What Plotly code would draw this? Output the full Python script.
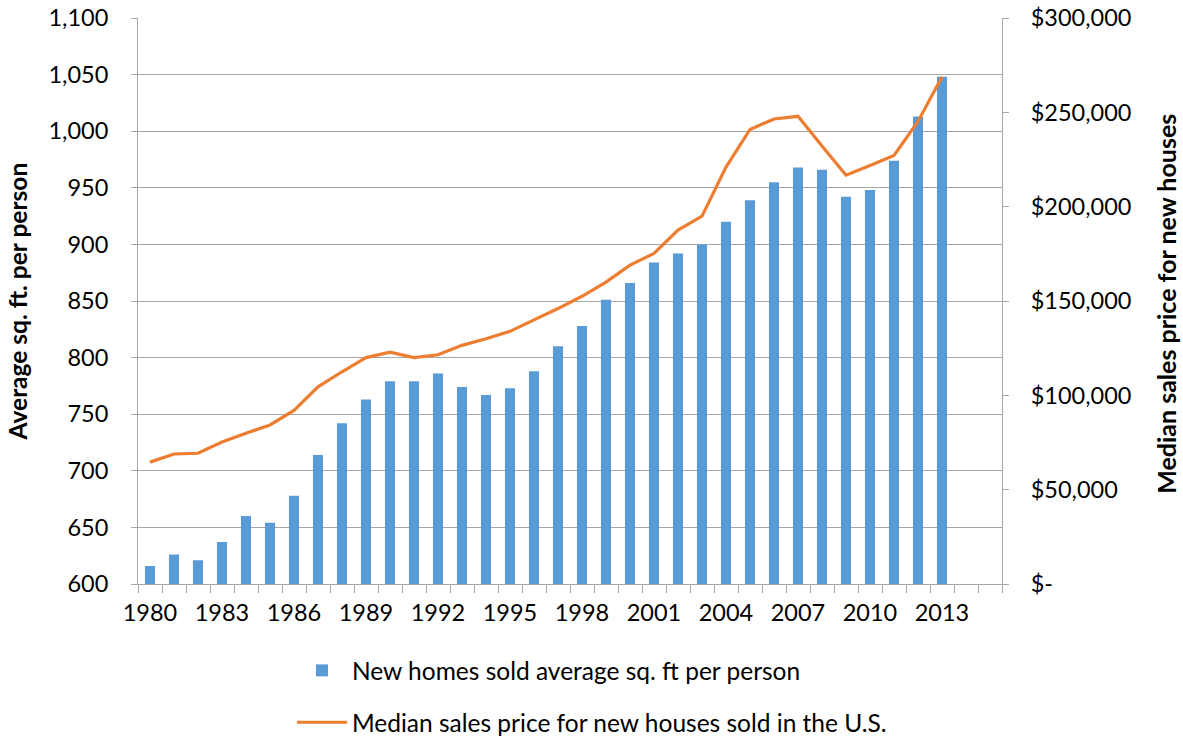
import plotly.graph_objects as go

years = list(range(1980, 2014))
sqft_per_person = [616, 626, 621, 637, 660, 654, 678, 714, 742, 763,
                   779, 779, 786, 774, 767, 773, 788, 810, 828, 851,
                   866, 884, 892, 900, 920, 939, 955, 968, 966, 942,
                   948, 974, 1013, 1048]
median_price = [64600, 68900, 69300, 75300, 79900, 84300, 92000, 104500, 112500, 120000,
                122900, 120000, 121500, 126500, 130000, 133900, 140000, 146000, 152500, 160000,
                169000, 175200, 187600, 195000, 221000, 240900, 246500, 247900, 232100, 216700,
                221800, 227200, 245200, 268900]

left_ticks = list(range(600, 1101, 50))
left_labels = [f"{v:,}" for v in left_ticks]
right_ticks = list(range(0, 300001, 50000))
right_labels = ["$-"] + [f"${v:,}" for v in right_ticks[1:]]
x_ticks = list(range(1980, 2014, 3))
left_title = "Average sq. ft. per person"
right_title = "Median sales price for new houses"

FONT = "Lato, Carlito, Calibri, sans-serif"
BLUE = "#5B9BD5"
ORANGE = "#ED7D31"
GRID = "#A6A6A6"

W, H = 1183, 736

fig = go.Figure()
fig.add_trace(go.Bar(
    x=years, y=sqft_per_person, name="New homes sold average sq. ft per person",
    marker=dict(color=BLUE, line=dict(width=0)), legendgroup="a", yaxis="y"))
fig.add_trace(go.Scatter(
    x=years, y=median_price, name="Median sales price for new houses sold in the U.S.",
    mode="lines", line=dict(color=ORANGE, width=3.2), legendgroup="b", yaxis="y2"))

fig.update_layout(
    width=W, height=H,
    margin=dict(l=138, r=181, t=18, b=152, autoexpand=False),
    paper_bgcolor="white", plot_bgcolor="white",
    font=dict(family=FONT, size=23.5, color="#000000"),
    bargap=0.58,
    showlegend=True,
    legend=dict(xref="container", yref="container", x=0.2468, y=0.1196,
                xanchor="left", yanchor="top",
                orientation="v", font=dict(size=24.5, family=FONT),
                tracegroupgap=17, itemwidth=50, traceorder="grouped",
                bgcolor="rgba(0,0,0,0)"),
    xaxis=dict(range=[1979.5, 2015.5], tickmode="array", tickvals=x_ticks,
               ticktext=[str(v) for v in x_ticks], ticks="", showgrid=False,
               showline=True, linecolor=GRID, linewidth=1, zeroline=False,
               ticklabelstandoff=8, automargin=False,
               minor=dict(tickmode="linear", tick0=1979.5, dtick=1, ticks="outside",
                          ticklen=8, tickcolor=GRID, showgrid=False)),
    yaxis=dict(range=[600, 1100], tickmode="array", tickvals=left_ticks, ticktext=left_labels,
               showgrid=True, gridcolor=GRID, gridwidth=1, showline=True, linecolor=GRID,
               zeroline=False, ticks="outside", ticklen=6, tickcolor=GRID,
               ticklabelstandoff=18, automargin=False),
    yaxis2=dict(range=[0, 300000], overlaying="y", side="right", tickmode="array",
                tickvals=right_ticks, ticktext=right_labels, showgrid=False,
                showline=True, linecolor=GRID, zeroline=False, ticks="outside", ticklen=6,
                tickcolor=GRID, ticklabelstandoff=17, automargin=False),
    annotations=[
        dict(text=f"<b>{left_title}</b>", xref="paper", yref="paper", x=-0.1395, y=0.5,
             xanchor="center", yanchor="middle", textangle=-90, showarrow=False,
             font=dict(size=24.5, family=FONT)),
        dict(text=f"<b>{right_title}</b>", xref="paper", yref="paper", x=1.1898, y=0.495,
             xanchor="center", yanchor="middle", textangle=-90, showarrow=False,
             font=dict(size=25, family=FONT)),
    ],
)

fig.write_html("out.html", config={"displayModeBar": False},
               post_script="document.body.style.margin='0';document.body.style.padding='0';")
